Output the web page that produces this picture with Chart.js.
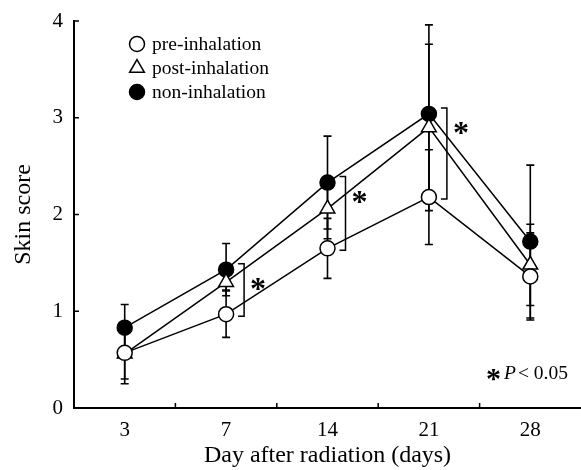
<!DOCTYPE html>
<html>
<head>
<meta charset="utf-8">
<script src="https://cdn.jsdelivr.net/npm/chart.js@4.4.0/dist/chart.umd.min.js"></script>
<style>
  body { margin: 0; background: #fff; }
  #wrap { width: 581px; height: 470px; }
</style>
</head>
<body>
<div id="wrap"><canvas id="skinChart" width="581" height="470"></canvas></div>
<script>
// days after radiation
const days = ['3', '7', '14', '21', '28'];
const yTicks = [0, 1, 2, 3, 4];

// mean skin score and SD per group
const preMean = [0.57, 0.97, 1.65, 2.18, 1.36];
const preSD = [0.32, 0.24, 0.31, 0.49, 0.45];
const postMean = [0.56, 1.30, 2.06, 2.90, 1.48];
const postSD = [0.26, 0.08, 0.31, 0.86, 0.42];
const nonMean = [0.83, 1.43, 2.33, 3.04, 1.72];
const nonSD = [0.24, 0.27, 0.48, 0.92, 0.79];

// days with P < 0.05
const sigDays = ['7', '14', '21'];

const serif = "'Liberation Serif', 'Times New Roman', serif";

const groups = [
    { label: 'pre-inhalation', mean: preMean, sd: preSD, style: 'circle', fill: '#fff' },
    { label: 'post-inhalation', mean: postMean, sd: postSD, style: 'triangle', fill: '#fff' },
    { label: 'non-inhalation', mean: nonMean, sd: nonSD, style: 'circle', fill: '#000' }
];

function drawMarker(ctx, style, fill, x, y) {
    ctx.save();
    ctx.fillStyle = fill;
    ctx.strokeStyle = '#000';
    ctx.lineWidth = 1.5;
    ctx.beginPath();
    if (style === 'triangle') {
        const r = 8.5;
        ctx.moveTo(x, y - r);
        ctx.lineTo(x + r * Math.sin(2 * Math.PI / 3), y - r * Math.cos(2 * Math.PI / 3));
        ctx.lineTo(x + r * Math.sin(4 * Math.PI / 3), y - r * Math.cos(4 * Math.PI / 3));
        ctx.closePath();
    } else {
        ctx.arc(x, y, 7.5, 0, Math.PI * 2);
    }
    ctx.fill();
    ctx.stroke();
    ctx.restore();
}

const overlay = {
    id: 'overlay',
    beforeDatasetsDraw(chart) {
        const ctx = chart.ctx;
        const xs = chart.scales.x, ys = chart.scales.y;
        ctx.save();
        ctx.strokeStyle = '#000';
        ctx.lineWidth = 1.6;
        groups.forEach(g => {
            g.mean.forEach((m, i) => {
                const x = xs.getPixelForValue(i);
                const top = ys.getPixelForValue(m + g.sd[i]);
                const bot = ys.getPixelForValue(m - g.sd[i]);
                ctx.beginPath();
                ctx.moveTo(x, top); ctx.lineTo(x, bot);
                ctx.moveTo(x - 4, top); ctx.lineTo(x + 4, top);
                ctx.moveTo(x - 4, bot); ctx.lineTo(x + 4, bot);
                ctx.stroke();
            });
        });
        ctx.restore();
    },
    afterDraw(chart) {
        const ctx = chart.ctx;
        const xs = chart.scales.x, ys = chart.scales.y;
        const area = chart.chartArea;
        ctx.save();
        ctx.strokeStyle = '#000';
        ctx.lineWidth = 1.5;

        // inward ticks
        ctx.beginPath();
        yTicks.forEach(v => {
            const y = ys.getPixelForValue(v);
            ctx.moveTo(area.left, y); ctx.lineTo(area.left + 5, y);
        });
        for (let i = 0; i < days.length - 1; i++) {
            const x = (xs.getPixelForValue(i) + xs.getPixelForValue(i + 1)) / 2;
            ctx.moveTo(x, area.bottom); ctx.lineTo(x, area.bottom - 5);
        }
        ctx.stroke();

        // significance brackets
        sigDays.forEach(d => {
            const i = days.indexOf(d);
            const x = xs.getPixelForValue(i) + 18;
            const top = ys.getPixelForValue(nonMean[i]) - 6;
            const bot = ys.getPixelForValue(preMean[i]) + 2;
            ctx.beginPath();
            ctx.moveTo(x - 6, top); ctx.lineTo(x, top); ctx.lineTo(x, bot); ctx.lineTo(x - 6, bot);
            ctx.stroke();
            ctx.fillStyle = '#000';
            ctx.font = 'bold 32px ' + serif;
            ctx.textAlign = 'center';
            ctx.textBaseline = 'middle';
            ctx.fillText('*', x + 14, top + 27);
        });

        // legend
        groups.forEach((g, k) => {
            const y = area.top + 23 + k * 24;
            drawMarker(ctx, g.style, g.fill, area.left + 63, y);
            ctx.fillStyle = '#000';
            ctx.font = '19.5px ' + serif;
            ctx.textAlign = 'left';
            ctx.textBaseline = 'middle';
            ctx.fillText(g.label, area.left + 78, y + 1);
        });

        // P value note
        let px = area.right - 95;
        const py = area.bottom - 34;
        ctx.textAlign = 'left';
        ctx.textBaseline = 'middle';
        ctx.font = 'bold 30px ' + serif;
        ctx.fillText('*', px, py + 6);
        px += ctx.measureText('*').width + 3;
        ctx.font = 'italic 19.5px ' + serif;
        ctx.fillText('P', px, py);
        px += ctx.measureText('P').width + 2;
        ctx.font = '19.5px ' + serif;
        ctx.fillText('< 0.05', px, py);
        ctx.restore();
    }
};

const ctx = document.getElementById('skinChart').getContext('2d');
const skinChart = new Chart(ctx, {
    type: 'line',
    data: {
        labels: days,
        datasets: groups.map(g => ({
            label: g.label,
            data: g.mean,
            borderColor: '#000',
            borderWidth: 1.5,
            pointStyle: g.style,
            pointRadius: g.style === 'triangle' ? 8.5 : 7.5,
            pointHoverRadius: g.style === 'triangle' ? 8.5 : 7.5,
            pointBackgroundColor: g.fill,
            pointBorderColor: '#000',
            pointBorderWidth: 1.5,
            fill: false,
            tension: 0
        }))
    },
    options: {
        responsive: false,
        animation: false,
        layout: { autoPadding: false, padding: { top: 21, right: 0, left: 0, bottom: 0 } },
        plugins: {
            legend: { display: false },
            tooltip: { enabled: false }
        },
        scales: {
            x: {
                offset: true,
                grid: { display: false, drawTicks: false },
                border: { display: true, color: '#000', width: 2 },
                ticks: { color: '#000', padding: 10, font: { family: serif, size: 21 } },
                title: { display: true, text: 'Day after radiation (days)', color: '#000',
                         padding: { top: 6, bottom: 0 }, font: { family: serif, size: 24 } },
                afterFit(scale) {
                    scale.height = 62;
                    scale.paddingLeft = 0;
                    scale.paddingRight = 0;
                }
            },
            y: {
                min: 0,
                max: 4,
                grid: { display: false, drawTicks: false },
                border: { display: true, color: '#000', width: 2 },
                ticks: { color: '#000', stepSize: 1, padding: 11, font: { family: serif, size: 21 } },
                title: { display: true, text: 'Skin score', color: '#000',
                         padding: { top: 9, bottom: 0 }, font: { family: serif, size: 24 } },
                afterFit(scale) {
                    scale.width = 74;
                    scale.paddingTop = 0;
                    scale.paddingBottom = 0;
                }
            }
        }
    },
    plugins: [overlay]
});
</script>
</body>
</html>
